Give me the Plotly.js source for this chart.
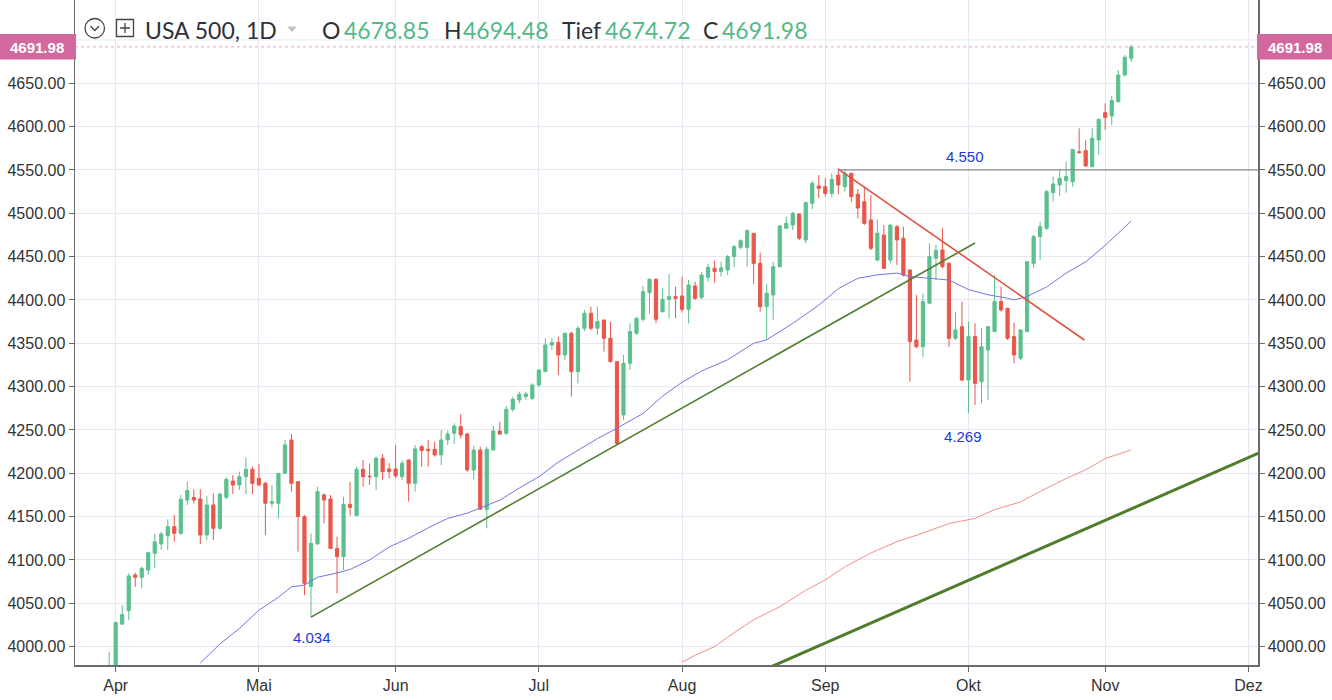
<!DOCTYPE html>
<html><head><meta charset="utf-8">
<script src="https://cdn.plot.ly/plotly-3.0.1.min.js"></script>
<style>html,body{margin:0;padding:0;background:#fff;}#chart{width:1332px;height:700px;}</style>
</head><body><div id="chart"></div>
<script>
// ---- month ticks (x = trading-day index, 0 = 31 Mar) ----
const monthTicks  = [1, 23, 44, 66, 88, 110, 132, 153, 175];
const monthLabels = ['Apr','Mai','Jun','Jul','Aug','Sep','Okt','Nov','Dez'];
// ---- price ticks (4700 gridline is hidden under the last-price tag) ----
const priceTicks = [4000,4050,4100,4150,4200,4250,4300,4350,4400,4450,4500,4550,4600,4650];
const hiddenGridPrice = 4700;

// ---- daily OHLC (USA 500, 1D) ----
const opens = [
3965,3977,4026,4041.5,4082.7,4080,4088.4,4107.7,4118.4,4128,
4138.4,4130.7,4169.2,4172,4170.4,4128.8,4163.4,4136.5,4172.3,4191.1,
4186.5,4196.1,4204.6,4194.2,4188.4,4165.4,4165.4,4200,4238.4,4190.3,
4150,4069.2,4118.4,4175,4170.4,4113.4,4103.8,4164.2,4151.1,4204.6,
4196.6,4196.1,4217.3,4205,4205,4196.2,4215.4,4188.5,4230.8,4227.7,
4227.7,4221.2,4238.5,4246.2,4253.8,4245.4,4203.8,4226.9,4158.5,4226.9,
4248.8,4246.2,4273.8,4284.6,4288.5,4286.5,4301.9,4317.3,4348.1,4350.8,
4336.5,4361.5,4317.3,4367.3,4384.6,4367.3,4376.9,4355.8,4328.8,4267.3,
4326.9,4361.5,4377.7,4408.4,4423.8,4386.5,4400.7,4403.8,4404.6,4389.2,
4416.1,4403,4426.1,4436.5,4432.7,4434.6,4450,4460.7,4460.7,4476.9,
4442.3,4392.3,4405.8,4438.4,4482.7,4486.5,4499.2,4469.2,4511.5,4531.5,
4530.7,4523,4544.2,4530.7,4546.1,4522,4513.4,4492.3,4446.1,4475,
4446.1,4484.6,4471.2,4434.6,4353.8,4346.1,4396.2,4448.1,4457.7,4442.3,
4355.8,4369.2,4307.7,4357.7,4305.7,4342.3,4363.5,4398.1,4390.4,4357.7,
4332.7,4363.5,4442.3,4473,4482.7,4523.8,4532.7,4537.7,4536.5,4571.1,
4572.3,4553.8,4584.6,4616.1,4612.3,4628.8,4659.6,4678.85];
const highs = [
3994,4029,4048,4084.6,4085.3,4092.3,4109.6,4130,4132.7,4146.9,
4151.9,4175,4190.3,4181.5,4181.5,4173.8,4176.9,4178,4195.3,4198,
4201.9,4218.4,4207.7,4210.7,4190.3,4186.5,4200,4238.4,4245.3,4191,
4151.9,4130.7,4184.6,4176.9,4175,4126.9,4173,4190.3,4207.7,4215.3,
4211.5,4219.2,4222.3,4211.5,4232.7,4215,4216,4232.7,4232.7,4238.5,
4236.5,4250,4249.2,4257.7,4268.1,4246.2,4231.9,4230.8,4230.8,4254.6,
4259.6,4277.7,4288.5,4294.2,4294.2,4303.8,4320,4355.8,4355.8,4357.7,
4362.3,4363.5,4370,4388.5,4392.3,4392.3,4377,4375,4329,4336.5,
4373.1,4380.7,4416.1,4425,4425,4413.4,4430,4415.4,4426.9,4423.1,
4421.1,4432.7,4441.5,4445.4,4444.2,4451.9,4463.4,4470,4481.5,4477,
4454.6,4418.4,4444.2,4486.5,4496.1,4501.9,4500,4513.4,4537.7,4544.2,
4540.3,4546.1,4551.9,4550.7,4547,4528,4530.7,4521.1,4493,4486.5,
4487,4486.5,4484.6,4435,4405.8,4407.7,4465.4,4463.4,4482.7,4443,
4386.5,4398.1,4375,4373.1,4367.3,4370,4428.8,4415.4,4391,4373.8,
4366,4444.5,4475,4490.4,4527,4542.3,4550,4559.6,4573.8,4598,
4584.6,4598,4609,4626.9,4635.4,4665.4,4682.7,4694.48];
const lows = [
3955,3972,4025,4030.7,4069,4067.3,4083,4090.4,4111.5,4111.5,
4121,4128.8,4163.4,4165,4118.4,4123,4123,4134.6,4170,4176.1,
4180.7,4176.1,4176.1,4185.7,4128.8,4160.7,4148,4199,4178.8,4109.6,
4059.6,4034,4118,4142.3,4113,4061.5,4088.4,4151.1,4150.8,4184.6,
4186.5,4180.7,4192.3,4194.2,4194.2,4192.3,4167.3,4178.8,4207.7,4207.7,
4219.2,4209.6,4232.7,4233.8,4240.4,4201.9,4193.1,4157.7,4136.5,4226.2,
4244.2,4244.2,4271,4280.8,4284.6,4284.6,4299.2,4317.3,4342.3,4313.5,
4330.8,4288.5,4303.8,4364,4365,4359.6,4340.4,4328,4232.7,4261.5,
4319.2,4359.6,4375,4383.8,4373.1,4385.4,4378.8,4378.8,4385.4,4373.1,
4400,4400.7,4421.1,4420.3,4426.9,4428.8,4437.7,4458.5,4438.4,4418.4,
4386.5,4353.8,4377,4437.7,4482,4480.7,4469.2,4465.4,4504.6,4517.3,
4519.2,4518.4,4522.3,4525,4513.4,4494.2,4486.5,4457.7,4444.2,4436,
4442.3,4440.4,4426.9,4305.7,4344.2,4334.6,4396,4423.1,4436.5,4346.1,
4353.8,4306,4269.2,4278.8,4280.7,4284.6,4363,4386.5,4353.8,4327,
4330.8,4363,4436.5,4446.1,4480.7,4513.4,4520,4523.8,4530.7,4569,
4553.8,4553,4567.3,4596.1,4601.9,4627.7,4657.7,4674.72];
const closes = [
3976,4027.7,4037,4081.5,4080,4090.4,4108.4,4121,4130,4138.4,
4130.7,4170,4180,4169.2,4128.8,4163.4,4136.5,4176,4193,4186.5,
4196.1,4204.6,4188.4,4186.5,4165.4,4167.3,4200,4232.7,4188.4,4150,
4073,4119.2,4178.8,4169.2,4113.4,4103.8,4164.2,4160.7,4204.6,4196.1,
4196.1,4217.3,4201.9,4202,4197,4211.5,4188.5,4228.1,4226.2,4226.2,
4221.2,4238.5,4245.4,4254.6,4244.2,4203.8,4226.9,4158.5,4227.7,4248.8,
4245.4,4273.8,4285.4,4291.2,4291.5,4301.9,4319.2,4348.1,4350.8,4336.5,
4361.5,4317.3,4367.3,4384.6,4367.3,4375,4355.8,4328.8,4234.6,4326.9,
4363.5,4378.8,4409.6,4423.8,4377.7,4400.7,4403.8,4401.9,4389.2,4417.3,
4401.9,4428.8,4437.7,4432.7,4437,4450,4461.5,4468.4,4480,4442.3,
4392.3,4407.7,4438.4,4485.4,4488.4,4500,4471.2,4512.3,4534.6,4528.8,
4523,4539.2,4532.7,4546.1,4519.2,4506,4488.4,4459.6,4476.9,4436.5,
4486.5,4469.2,4428.8,4351.9,4346.1,4398.1,4450,4456.9,4438.4,4355.8,
4365.4,4307.7,4357.7,4303.8,4346.1,4369.2,4398.1,4388.5,4355.8,4336.5,
4365.4,4444.2,4473,4484.6,4525,4533.8,4540.4,4542.3,4573.8,4570,
4554.6,4586.5,4608.4,4610.7,4630,4659.6,4680,4691.98];

// ---- moving averages ----
const maBlueIdx = [14,17,20,23,26,28,30,32,35,37,40,42,43,46,49,52,55,57,60,63,66,69,72,75,78,80,82,85,88,91,95,99,101,105,109,112,115,118,121,123,126,129,132,135,138,139,141,144,147,150,153,157];
const maBlueVal = [3981,4003,4021,4042,4057,4069,4071,4080,4085,4089,4100,4110,4115,4125,4137,4148,4154,4160,4169,4183,4196,4213,4227,4240,4252,4261,4269,4289,4305,4318,4331,4350,4354,4373,4394,4413,4425,4429,4431,4427,4425,4423,4412,4406,4402,4400,4404,4415,4431,4444,4463,4491];
const maRedIdx = [88,90,93,95,99,103,107,110,113,117,121,125,129,133,136,140,143,147,150,153,157];
const maRedVal = [3982,3990,4000,4011,4031,4046,4065,4077,4092,4108,4121,4131,4142,4148,4158,4167,4179,4194,4204,4217,4227];

// ---- drawn trend lines / levels ----
const supportIdx = [31, 133],     supportVal = [4034, 4465.7];
const longTrendIdx = [95, 180],   longTrendVal = [3954.8, 4234.6];
const resistIdx = [112, 149.8],   resistVal = [4551, 4353.8];
const levelIdxStart = 112,        levelVal = 4550;
const lastPrice = 4691.98;
const levelText = ['4.550','4.269','4.034'];
const levelIdx  = [131.5, 131.2, 31.2];
const levelAt   = [4565, 4243, 4011];

// ---- header ----
const symbolText = 'USA 500, 1D';
const ohlcLabels = ['O','H','Tief','C'];
const ohlcValues = ['4678.85','4694.48','4674.72','4691.98'];

// ---- styling / geometry ----
const GREEN = '#5cc08e', RED = '#e8574a', GRID = '#e9e7f3';
const xRange = [-5.25, 176.47], yRange = [3978.8, 4746.1];
const L = 75, R = 1258, T = 0, B = 665;
const px = x => (x - L) / (R - L);
const py = y => 1 - (y - T) / (B - T);
const AX_FONT = {family: 'Liberation Sans, Arial, sans-serif', size: 16, color: '#333'};
const HDR = 'Lato, "Open Sans", sans-serif';
const HDR_SIZE = 23;

const xIdx = opens.map((_, i) => i);

const traces = [
  {type:'scatter', mode:'lines', x:maRedIdx, y:maRedVal, line:{color:'#ef9188', width:1}, hoverinfo:'skip', showlegend:false},
  {type:'scatter', mode:'lines', x:maBlueIdx, y:maBlueVal, line:{color:'#7474e4', width:1}, hoverinfo:'skip', showlegend:false},
  {type:'candlestick', x:xIdx, open:opens, high:highs, low:lows, close:closes,
   increasing:{line:{color:GREEN, width:1}, fillcolor:GREEN},
   decreasing:{line:{color:RED, width:1}, fillcolor:RED},
   whiskerwidth:0, hoverinfo:'skip', showlegend:false},
  {type:'scatter', mode:'lines', x:supportIdx, y:supportVal, line:{color:'#4f7d2c', width:1.6}, hoverinfo:'skip', showlegend:false},
  {type:'scatter', mode:'lines', x:longTrendIdx, y:longTrendVal, line:{color:'#4f7d2c', width:3}, hoverinfo:'skip', showlegend:false},
  {type:'scatter', mode:'lines', x:resistIdx, y:resistVal, line:{color:'#e0503f', width:1.6}, hoverinfo:'skip', showlegend:false},
  {type:'scatter', mode:'lines', x:[levelIdxStart, xRange[1]], y:[levelVal, levelVal], line:{color:'#8a8a8a', width:1.2}, hoverinfo:'skip', showlegend:false},
  {type:'scatter', mode:'lines', x:xRange, y:[lastPrice, lastPrice], yaxis:'y2', line:{color:'#e3a2c4', width:1, dash:'dot'}, hoverinfo:'skip', showlegend:false}
];

const annotations = [];
levelText.forEach((t, i) => annotations.push({xref:'x', yref:'y', x:levelIdx[i], y:levelAt[i], text:t, showarrow:false,
  xanchor:'center', yanchor:'middle', font:{family:'Liberation Sans, Arial, sans-serif', size:15, color:'#2238d8'}}));

annotations.push({xref:'paper', yref:'paper', x:px(143), y:py(30), text:symbolText, showarrow:false, xanchor:'left', yanchor:'middle',
  font:{family:HDR, size:HDR_SIZE, color:'#2e3138'}});
const lblX = [320, 442, 560, 701], valX = [342, 461, 603, 720];
ohlcLabels.forEach((t, i) => {
  annotations.push({xref:'paper', yref:'paper', x:px(lblX[i]), y:py(30), text:t, showarrow:false, xanchor:'left', yanchor:'middle',
    font:{family:HDR, size:HDR_SIZE, color:'#2e3138'}});
  annotations.push({xref:'paper', yref:'paper', x:px(valX[i]), y:py(30), text:ohlcValues[i], showarrow:false, xanchor:'left', yanchor:'middle',
    font:{family:HDR, size:HDR_SIZE, color:'#53b987'}});
});
[37, 1295].forEach(cx => annotations.push({xref:'paper', yref:'paper', x:px(cx), y:py(47), text:'<b>' + lastPrice.toFixed(2) + '</b>',
  showarrow:false, xanchor:'center', yanchor:'middle', font:{family:'Liberation Sans, Arial, sans-serif', size:15, color:'#ffffff'}}));

const shapes = [
  {type:'line', xref:'paper', yref:'y', x0:0, x1:1, y0:hiddenGridPrice, y1:hiddenGridPrice, line:{color:GRID, width:1}, layer:'below'},
  {type:'rect', xref:'paper', yref:'paper', x0:px(0), x1:px(76), y0:py(59.5), y1:py(34), fillcolor:'#d3689f', line:{width:0}, layer:'above'},
  {type:'rect', xref:'paper', yref:'paper', x0:px(1257), x1:px(1332), y0:py(59.5), y1:py(34), fillcolor:'#d3689f', line:{width:0}, layer:'above'},
  {type:'circle', xref:'paper', yref:'paper', x0:px(85), x1:px(104.5), y0:py(38), y1:py(18.5), line:{color:'#444', width:1.3}, layer:'above'},
  {type:'path', xref:'paper', yref:'paper', path:`M ${px(90.5)},${py(26)} L ${px(94.8)},${py(30.5)} L ${px(99)},${py(26)}`, line:{color:'#444', width:1.3}, layer:'above'},
  {type:'rect', xref:'paper', yref:'paper', x0:px(116.5), x1:px(133.5), y0:py(36.5), y1:py(19.5), line:{color:'#444', width:1.3}, layer:'above'},
  {type:'path', xref:'paper', yref:'paper', path:`M ${px(120)},${py(28)} L ${px(130)},${py(28)} M ${px(125)},${py(23)} L ${px(125)},${py(33)}`, line:{color:'#444', width:1.3}, layer:'above'},
  {type:'path', xref:'paper', yref:'paper', path:`M ${px(287)},${py(26.5)} L ${px(297)},${py(26.5)} L ${px(292)},${py(32)} Z`, fillcolor:'#c4c4c8', line:{width:0}, layer:'above'}
];

const yCommon = {range:yRange, autorange:false, tickmode:'array', tickvals:priceTicks, ticktext:priceTicks.map(v => v.toFixed(2)),
  ticks:'outside', ticklen:5, tickcolor:'#666',
  showline:true, linecolor:'#6b6b6b', linewidth:1.5, zeroline:false, tickfont:AX_FONT, fixedrange:true};

const layout = {
  width:1332, height:700, margin:{l:L, r:1332-R, t:T, b:700-B},
  paper_bgcolor:'#ffffff', plot_bgcolor:'#ffffff', showlegend:false, hovermode:false, boxgap:0.3,
  xaxis:{range:xRange, autorange:false, tickmode:'array', tickvals:monthTicks, ticktext:monthLabels,
    showgrid:true, gridcolor:GRID, gridwidth:1, ticks:'outside', ticklen:5, tickcolor:'#666',
    showline:true, linecolor:'#6b6b6b', linewidth:1.5, zeroline:false, tickfont:AX_FONT,
    rangeslider:{visible:false}, fixedrange:true},
  yaxis:Object.assign({}, yCommon, {side:'left', showgrid:true, gridcolor:GRID, gridwidth:1}),
  yaxis2:Object.assign({}, yCommon, {side:'right', overlaying:'y', showgrid:false}),
  annotations, shapes
};

Plotly.newPlot('chart', traces, layout, {displayModeBar:false, staticPlot:true});
</script></body></html>
